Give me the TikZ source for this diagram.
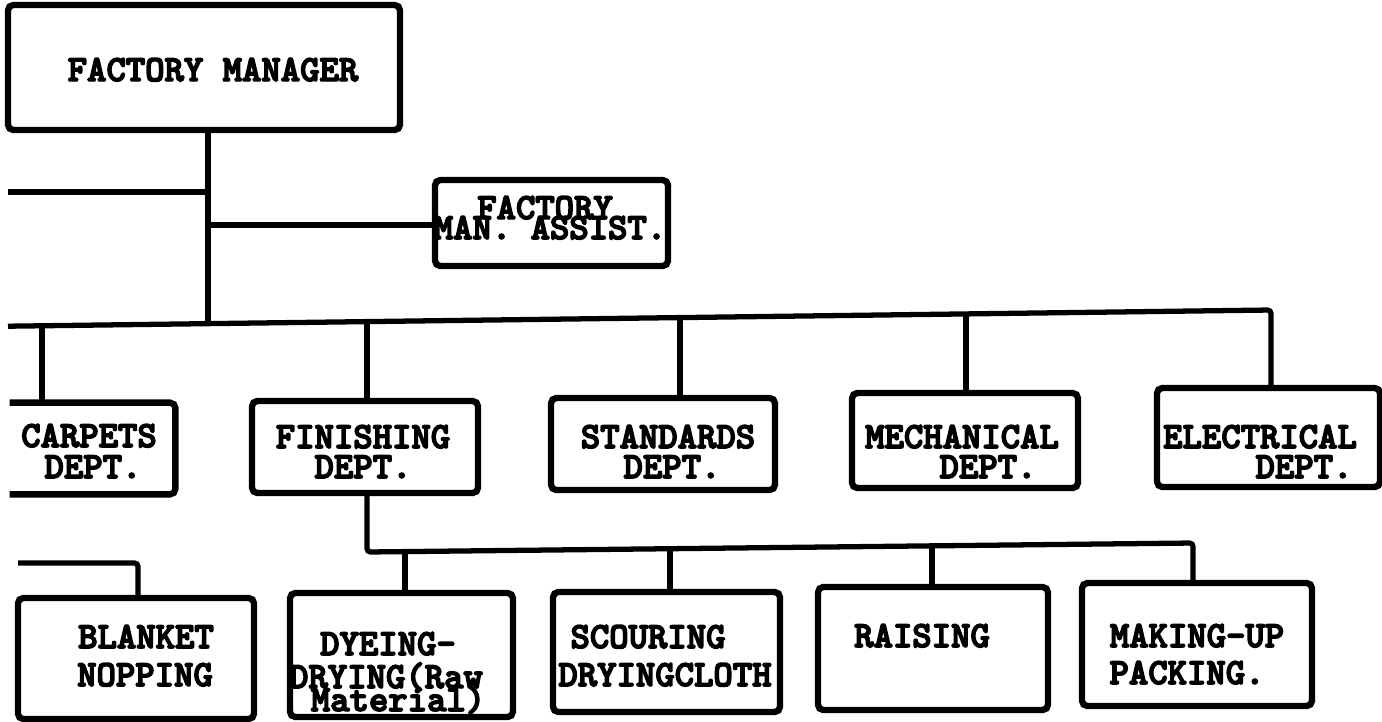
\documentclass[tikz,border=0pt]{standalone}
\usepackage{fontspec}
\newfontfamily\typew{lmmonolt10-bold.otf}[FakeBold=4]
\usetikzlibrary{fit}
\begin{document}
\begin{tikzpicture}[x=0.02cm,y=-0.02cm,
  box/.style={draw, line width=3.6pt, rounded corners=3pt, inner sep=0pt},
  openbox/.style={inner sep=0pt},
  conn/.style={line width=3pt, rounded corners=2pt},
  txt/.style={font=\typew\fontsize{21}{21}\selectfont, inner sep=0pt, anchor=base}]
\clip (0,0) rectangle (1382,721);
\fill[white] (0,0) rectangle (1382,721);

% boxes
\node[box, fit={(8,5)(400,130)}] (fm) {};
\node[box, fit={(435,180)(668,266)}] (asst) {};
\node[openbox, fit={(10,403)(175,494)}] (carp) {};
\node[box, fit={(252,401)(478,493)}] (fin) {};
\node[box, fit={(551,398)(775,490)}] (std) {};
\node[box, fit={(852,393)(1078,488)}] (mech) {};
\node[box, fit={(1157,388)(1380,487)}] (elec) {};
\node[box, fit={(18,598)(254,719)}] (blk) {};
\node[box, fit={(290,593)(513,717)}] (dye) {};
\node[box, fit={(553,592)(780,712)}] (scr) {};
\node[box, fit={(818,587)(1048,710)}] (rai) {};
\node[box, fit={(1082,583)(1312,706)}] (mak) {};
\draw[line width=3.6pt, rounded corners=3pt] (carp.north west) -- (carp.north east) -- (carp.south east) -- (carp.south west);

% texts
\node[txt] (fmT) at (213,81) {FACTORY MANAGER};
\node[txt] (asT1) at (545,219) {FACTORY};
\node[txt] (asT2) at (550,239) {MAN. ASSIST.};
\node[txt] (carT1) at (89,447) {CARPETS};
\node[txt] (carT2) at (93,478) {DEPT.};
\node[txt] (finT1) at (363,448) {FINISHING};
\node[txt] (finT2) at (363,478) {DEPT.};
\node[txt] (stdT1) at (668,448) {STANDARDS};
\node[txt] (stdT2) at (672,478) {DEPT.};
\node[txt] (mecT1) at (962,448) {MECHANICAL};
\node[txt] (mecT2) at (988,478) {DEPT.};
\node[txt] (eleT1) at (1260,448) {ELECTRICAL};
\node[txt] (eleT2) at (1304,478) {DEPT.};
\node[txt] (blkT1) at (146,648) {BLANKET};
\node[txt] (blkT2) at (145,686) {NOPPING};
\node[txt] (dyeT1) at (388,655) {DYEING-};
\node[txt] (dyeT2) at (386,688) {DRYING(Raw};
\node[txt] (dyeT3) at (398,711) {Material)};
\node[txt] (scrT1) at (648,648) {SCOURING};
\node[txt] (scrT2) at (665,686) {DRYINGCLOTH};
\node[txt] (raiT) at (922,647) {RAISING};
\node[txt] (makT1) at (1197,647) {MAKING-UP};
\node[txt] (makT2) at (1187,684) {PACKING.};

% upper connectors
\coordinate (bm) at (208,323.5);
\coordinate (s1) at (8,192);
\coordinate (a1) at (208,225);
\coordinate (b0) at (8,326.2);
\coordinate (bc) at (42,325.6);
\coordinate (bf) at (367,321.5);
\coordinate (bs) at (680,317.5);
\coordinate (bme) at (966,313.9);
\coordinate (be) at (1271,310);
\draw[conn] (fm.south -| bm) -- (bm);
\draw[conn] (s1) -- (s1 -| bm);
\draw[conn] (a1) -- (a1 -| asst.west);
\draw[conn] (b0) -- (be) -- (be |- elec.north);
\draw[conn] (bc) -- (bc |- carp.north);
\draw[conn] (bf) -- (bf |- fin.north);
\draw[conn] (bs) -- (bs |- std.north);
\draw[conn] (bme) -- (bme |- mech.north);

% lower connectors
\coordinate (l0) at (367,552);
\coordinate (ld) at (405,551.6);
\coordinate (ls) at (670,548.7);
\coordinate (lr) at (932,545.8);
\coordinate (lm) at (1193,543);
\draw[conn] (fin.south -| l0) -- (l0) -- (lm) -- (lm |- mak.north);
\draw[conn] (ld) -- (ld |- dye.north);
\draw[conn] (ls) -- (ls |- scr.north);
\draw[conn] (lr) -- (lr |- rai.north);
\coordinate (k0) at (18,563);
\coordinate (k1) at (138,563);
\draw[conn] (k0) -- (k1) -- (k1 |- blk.north);
\end{tikzpicture}
\end{document}
